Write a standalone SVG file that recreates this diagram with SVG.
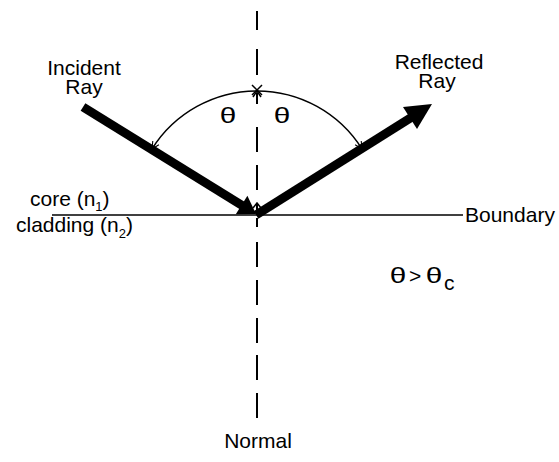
<svg xmlns="http://www.w3.org/2000/svg" width="559" height="462" viewBox="0 0 559 462">
<style>
text{font-family:"Liberation Sans",Arial,sans-serif;font-size:21px;fill:#000}
.thin{stroke:#000;stroke-width:1.5;fill:none}
.ray{stroke:#000;stroke-width:9;fill:none}
.norm{stroke:#000;stroke-width:2;fill:none}
.th{font-size:22px}
</style>
<defs>
<marker id="open" viewBox="0 0 10 10" refX="9" refY="5" markerWidth="9" markerHeight="9" markerUnits="userSpaceOnUse" orient="auto">
<path d="M1,1 L9,5 L1,9" fill="none" stroke="#000" stroke-width="1.2"/>
</marker>
</defs>
<rect width="559" height="462" fill="#fff"/>
<g id="connectors">
<line id="boundary-line" class="thin" x1="52" y1="215" x2="463" y2="215"/>
<path id="normal-line" class="norm" d="M257,11V30M257,49V75M257,93V104M257,127V152M257,165V190M257,203V212M257,218V227M257,242V267M257,280V305M257,318V343M257,355V380M257,393V418"/>
<path class="thin" d="M253,97L257,91L261,97M253,208L257,203L261,208"/>
<path class="thin" d="M252,85L262,95M262,85L252,95"/>
<g id="incident-ray">
<line class="ray" x1="83" y1="107" x2="243" y2="206"/>
<polygon points="256,214 235.8,214.3 247.4,195.7"/>
</g>
<g id="reflected-ray">
<line class="ray" x1="256" y1="215" x2="412" y2="117"/>
<polygon points="432,104 417,128.9 403,106.9"/>
</g>
<path id="arc-left" class="thin" d="M257,91 A124,124 0 0 0 152,149" marker-end="url(#open)"/>
<path id="arc-right" class="thin" d="M257,91 A124,124 0 0 1 362,149" marker-end="url(#open)"/>
</g>
<g id="incident-label"><text x="84" y="75" text-anchor="middle">Incident</text><text x="84" y="94" text-anchor="middle">Ray</text></g>
<g id="reflected-label"><text x="439" y="69" text-anchor="middle">Reflected</text><text x="437" y="88" text-anchor="middle">Ray</text></g>
<g id="theta-left"><text class="th" transform="translate(228,123) scale(1.35,1)" text-anchor="middle">θ</text></g>
<g id="theta-right"><text class="th" transform="translate(282,123) scale(1.35,1)" text-anchor="middle">θ</text></g>
<g id="core-label"><text x="30" y="206">core (n<tspan font-size="13" dy="5">1</tspan><tspan dy="-5">)</tspan></text></g>
<g id="cladding-label"><text x="16" y="232">cladding (n<tspan font-size="13" dy="6">2</tspan><tspan dy="-6">)</tspan></text></g>
<g id="boundary-label"><text x="465" y="222">Boundary</text></g>
<g id="condition-label"><text class="th" transform="translate(398,283) scale(1.35,1)" text-anchor="middle">θ</text><text x="409" y="283">&gt;</text><text class="th" transform="translate(434,283) scale(1.35,1)" text-anchor="middle">θ</text><text x="444" y="290" font-size="15">c</text></g>
<g id="normal-label"><text x="258" y="448" text-anchor="middle">Normal</text></g>
</svg>
